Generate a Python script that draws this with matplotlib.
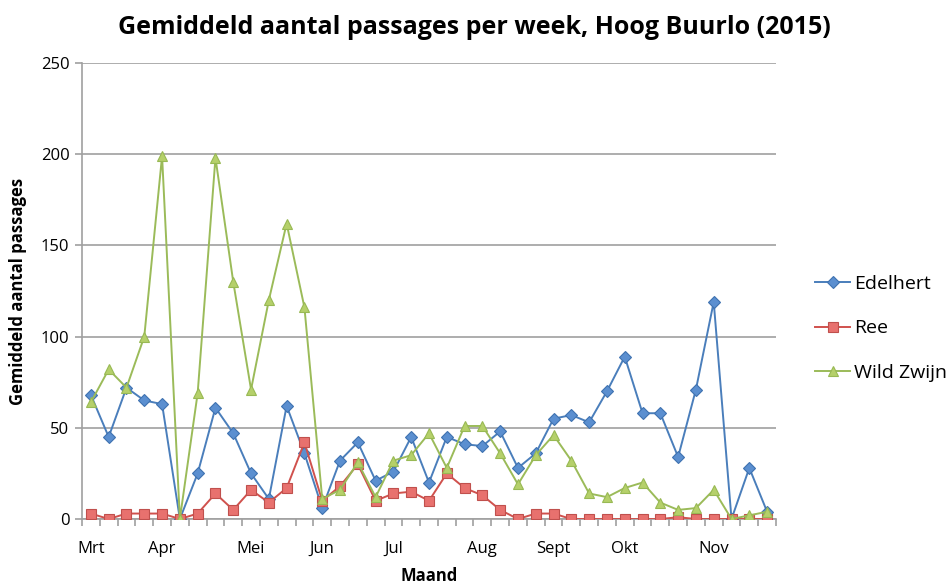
import matplotlib
matplotlib.use("Agg")
import matplotlib.pyplot as plt
import numpy as np

plt.rcParams['font.family'] = ['Open Sans', 'DejaVu Sans']

# Weekly averages, March through November 2015
month_labels = ["Mrt", "", "", "", "Apr", "", "", "", "", "Mei", "", "", "", "Jun",
                "", "", "", "Jul", "", "", "", "", "Aug", "", "", "", "Sept", "", "",
                "", "Okt", "", "", "", "", "Nov", "", "", ""]

edelhert = [68, 45, 72, 65, 63, 0, 25, 61, 47, 25, 11, 62, 36, 6, 32, 42, 21, 26, 45,
            20, 45, 41, 40, 48, 28, 36, 55, 57, 53, 70, 89, 58, 58, 34, 71, 119, 0, 28, 4]
ree = [3, 0, 3, 3, 3, 0, 3, 14, 5, 16, 9, 17, 42, 10, 18, 30, 10, 14, 15, 10, 25, 17,
       13, 5, 0, 3, 3, 0, 0, 0, 0, 0, 0, 1, 0, 0, 0, 0, 0]
wild_zwijn = [64, 82, 72, 100, 199, 0, 69, 198, 130, 71, 120, 162, 116, 11, 16, 31, 12,
              32, 35, 47, 28, 51, 51, 36, 19, 35, 46, 32, 14, 12, 17, 20, 9, 5, 6, 16,
              0, 2, 4]

series = [
    ("Edelhert", edelhert, "#4A7EBB", "D", "#5B8FD0", "#3F72B0", 6.5),
    ("Ree", ree, "#D0514D", "s", "#E8716E", "#C0504D", 7.5),
    ("Wild Zwijn", wild_zwijn, "#9BBB59", "^", "#B5D06A", "#98B954", 7.5),
]

fig = plt.figure(figsize=(9.49, 5.86), dpi=100)
ax = fig.add_axes([0.0864, 0.1143, 0.7313, 0.7782])

x = np.arange(len(month_labels))
for name, vals, col, mk, mfc, mec, ms in series:
    ax.plot(x, vals, color=col, lw=1.4, marker=mk, markersize=ms,
            markerfacecolor=mfc, markeredgecolor=mec, markeredgewidth=0.8,
            label=name, zorder=3)

ax.set_xlim(-0.5, len(month_labels) - 0.5)
ax.set_ylim(0, 250)
ax.set_yticks(np.arange(0, 251, 50))
ax.grid(axis='y', color='#A0A0A0', lw=1.2, zorder=0)

# category labels centred on points, tick marks between categories
ax.set_xticks(x)
ax.set_xticklabels(month_labels, fontsize=12)
ax.set_xticks(np.arange(-0.5, len(month_labels) + 0.5, 1), minor=True)
ax.tick_params(axis='x', which='major', length=0, pad=16)
ax.tick_params(axis='x', which='minor', length=5, color='#A0A0A0', width=1.2)
ax.tick_params(axis='y', length=5, color='#A0A0A0', width=1.2, labelsize=12, pad=4)

for side in ['top', 'right']:
    ax.spines[side].set_visible(False)
for side in ['left', 'bottom']:
    ax.spines[side].set_color('#A0A0A0')
    ax.spines[side].set_linewidth(1.2)

ax.set_xlabel("Maand", fontsize=12, fontweight='bold', labelpad=7)
ax.set_ylabel("Gemiddeld aantal passages", fontsize=12, fontweight='bold', labelpad=10)
fig.suptitle("Gemiddeld aantal passages per week, Hoog Buurlo (2015)",
             fontsize=18, fontweight='bold', x=0.5, y=0.975)

ax.legend(loc='center left', bbox_to_anchor=(1.045, 0.418), frameon=False,
          fontsize=14, handlelength=1.8, handletextpad=0.2, labelspacing=1.35,
          borderaxespad=0)

fig.savefig("out.png", dpi=100)
